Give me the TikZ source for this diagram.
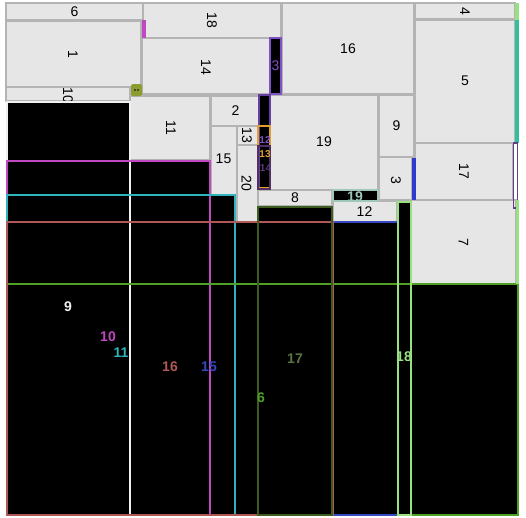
\documentclass[tikz,border=0pt]{standalone}
\usepackage{fontspec}
\setmainfont{Liberation Sans}
\definecolor{boxfill}{HTML}{E6E6E6}
\definecolor{boxline}{HTML}{B4B4B4}
\definecolor{cwhite}{HTML}{F0F0F0}
\definecolor{cmag}{HTML}{C048C0}
\definecolor{ccyan}{HTML}{30B4BC}
\definecolor{cgreen}{HTML}{50A028}
\definecolor{cblue}{HTML}{3848C0}
\definecolor{cred}{HTML}{B05858}
\definecolor{colive}{HTML}{3C5C20}
\definecolor{clgreen}{HTML}{98E080}
\definecolor{cteal}{HTML}{A0C8B8}
\definecolor{cpurple}{HTML}{8050C8}
\definecolor{cdpurple}{HTML}{503060}
\definecolor{corange}{HTML}{E0A030}
\definecolor{cteal2}{HTML}{30C0A0}
\definecolor{colbox}{HTML}{8C9C30}
\begin{document}
\begin{tikzpicture}[x=1pt,y=-1pt,
  gbox/.style={fill=boxfill, draw=boxline, line width=1.5pt},
  blk/.style={fill=black},
  cline/.style={draw=#1, line width=2pt},
  lab/.style={font=\fontsize{14}{16}\selectfont, inner sep=0pt},
  rlab/.style={lab, rotate=-90},
  dlab/.style={font=\fontsize{14}{16}\selectfont\bfseries, inner sep=0pt},
  slab/.style={font=\fontsize{10}{11}\selectfont\bfseries, inner sep=0pt}]
\useasboundingbox (0,0) rectangle (526,517);
\fill[white] (0,0) rectangle (526,517);

% gray boxes
\draw[gbox] (6,3) rectangle (143,20);
\node[lab] (l6) at (74.5,11.5) {6};
\draw[gbox] (6,21) rectangle (141,87);
\node[rlab] (l1) at (73,54) {1};
\draw[gbox] (6,87) rectangle (130,101);
\node[rlab] (l10) at (68,95) {10};
\draw[gbox] (143,3) rectangle (281,38);
\node[rlab] (l18) at (212,20.5) {18};
\draw[gbox] (142,38) rectangle (270,94);
\node[rlab] (l14) at (206,67) {14};
\draw[gbox] (282,3) rectangle (414,94);
\node[lab] (l16) at (348,48.5) {16};
\draw[gbox] (415,3) rectangle (515,19);
\node[rlab] (l4) at (465,11) {4};
\draw[gbox] (415,20) rectangle (515,143);
\node[lab] (l5) at (465,81) {5};
\draw[gbox] (130,96) rectangle (210,160);
\node[rlab] (l11) at (171,128) {11};
\draw[gbox] (211,96) rectangle (259,126);
\node[lab] (l2) at (235.5,111) {2};
\draw[gbox] (211,126) rectangle (237,195);
\node[lab] (l15) at (223.5,159) {15};
\draw[gbox] (237,126) rectangle (258,145);
\node[rlab] (l13) at (247,135.5) {13};
\draw[gbox] (237,145) rectangle (258,222);
\node[rlab] (l20) at (246.5,183) {20};
\draw[gbox] (270,95) rectangle (378,190);
\node[lab] (l19) at (324,142) {19};
\draw[gbox] (379,95) rectangle (414,157);
\node[lab] (l9) at (396.5,126) {9};
\draw[gbox] (379,157) rectangle (412,200);
\node[rlab] (l3) at (396,180) {3};
\draw[gbox] (258,190) rectangle (332,206);
\node[lab] (l8) at (295,198) {8};
\draw[gbox] (333,201) rectangle (397,222);
\node[lab] (l12) at (364.5,211.5) {12};
\draw[gbox] (415,143) rectangle (513,200);
\node[rlab] (l17) at (464,171.5) {17};
\draw[gbox] (411,200) rectangle (516,284);
\node[rlab] (l7) at (463.5,242) {7};

% black filled regions
\fill[blk] (7,102) rectangle (130,515);
\fill[blk] (7,161) rectangle (210,515);
\fill[blk] (7,195) rectangle (235,515);
\fill[blk] (7,222) rectangle (398,515);
\fill[blk] (7,284) rectangle (518,515);
\fill[blk] (258,207) rectangle (332,515);
\fill[blk] (398,202) rectangle (411,515);
\fill[blk] (333,190) rectangle (378,201);
\fill[blk] (270,38) rectangle (281,94);
\fill[blk] (259,95) rectangle (270,189);

% outlines
\draw[cline=cwhite] (7,102) rectangle (130,515);
\draw[cline=cmag] (7,161) rectangle (210,515);
\draw[cline=ccyan] (7,195) rectangle (235,515);
\draw[cline=cgreen] (7,284) rectangle (518,515);
\draw[cline=cblue] (7,222) rectangle (398,515);
\draw[cline=cred] (7,222) rectangle (333,515);
\draw[cline=colive] (258,207) rectangle (332,515);
\draw[cline=clgreen] (398,202) rectangle (411,515);
\draw[cline=cteal] (333,190) rectangle (378,201);
\draw[cline=cpurple] (270,38) rectangle (281,94);
\draw[cline=cpurple!80!black] (259,95) rectangle (270,189);
\draw[cline=corange] (258,126) rectangle (270,188);
\draw[cline=cdpurple] (258,146) rectangle (270,189);

% labels of dark rectangles
\node[dlab, text=cwhite] (d9) at (68,307) {9};
\node[dlab, text=cmag] (d10) at (108,337) {10};
\node[dlab, text=ccyan] (d11) at (121,353) {11};
\node[dlab, text=cred] (d16) at (170,367) {16};
\node[dlab, text=cblue] (d15) at (209,367) {15};
\node[dlab, text=colive!85!white] (d17) at (295,359) {17};
\node[dlab, text=cgreen] (d6) at (261,398) {6};
\node[dlab, text=clgreen] (d18) at (404,357) {18};
\node[lab, text=cpurple] (d3) at (275.5,66) {3};
\node[slab, text=cpurple] (d12) at (265,140) {12};
\node[slab, text=corange] (d13) at (265,154) {13};
\node[slab, text=cdpurple!70!cpurple] (d14) at (265.5,168) {14};
\begin{scope}
\clip (333,190) rectangle (378,201);
\node[dlab, text=cteal] (d19) at (355,197) {19};
\end{scope}

% small slivers
\fill[cmag] (142,20) rectangle (146,38);
\fill[colbox, rounded corners=1.5pt] (131,84) rectangle (142,96);
\fill[black] (135,90) circle (0.9);
\fill[black] (138,90) circle (0.9);
\fill[clgreen] (515,3) rectangle (519,20);
\fill[cteal2] (515,20) rectangle (519,143);
\draw[line width=1.5pt, draw=cdpurple!60!cpurple] (513.5,143) rectangle (517.5,208);
\fill[clgreen] (516,200) rectangle (518.5,284);
\fill[cblue!80!blue] (412,158) rectangle (416,200);
\end{tikzpicture}
\end{document}
